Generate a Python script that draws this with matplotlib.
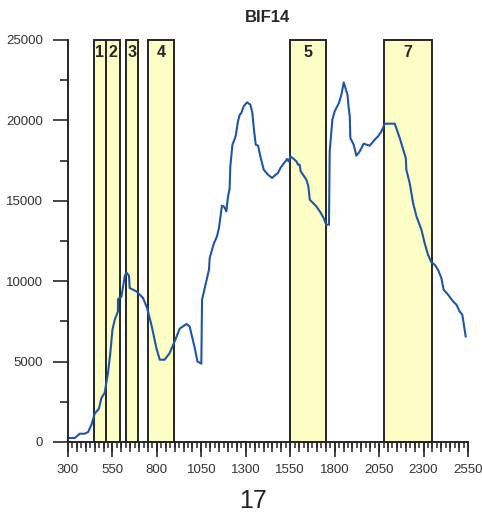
import matplotlib
matplotlib.use("Agg")
import matplotlib.pyplot as plt
from matplotlib.ticker import MultipleLocator, FixedLocator
from matplotlib.patches import Rectangle

plt.rcParams['font.family'] = ['Liberation Sans', 'DejaVu Sans']

wavelength = [306, 338, 366, 394, 413, 432, 450, 474, 488, 506, 525, 538, 550, 563, 581, 581,
              600, 619, 628, 643, 647, 685, 722, 745, 769, 797, 816, 844, 872, 900, 928, 966,
              984, 1013, 1028, 1050, 1054, 1078, 1093, 1097, 1120, 1138, 1149, 1166, 1177, 1191,
              1200, 1209, 1213, 1225, 1243, 1256, 1266, 1275, 1288, 1307, 1326, 1337, 1346, 1356,
              1369, 1382, 1401, 1425, 1448, 1468, 1481, 1495, 1515, 1523, 1532, 1541, 1551, 1570,
              1585, 1594, 1603, 1609, 1622, 1641, 1652, 1660, 1678, 1697, 1720, 1738, 1753, 1768,
              1772, 1787, 1800, 1824, 1838, 1851, 1872, 1879, 1885, 1888, 1907, 1922, 1941, 1963,
              1997, 2025, 2044, 2063, 2081, 2138, 2166, 2200, 2203, 2222, 2241, 2260, 2288, 2306,
              2325, 2344, 2363, 2381, 2400, 2413, 2438, 2466, 2485, 2503, 2518, 2537]
intensity = [249, 250, 516, 516, 620, 1076, 1760, 2071, 2736, 3047, 4291, 5535, 6984, 7606, 8122, 8893,
             9018, 10299, 10548, 10342, 9577, 9366, 8955, 8333, 7295, 5846, 5118, 5118, 5535, 6256, 7046, 7338,
             7189, 5846, 5012, 4869, 8850, 9988, 10715, 11443, 12332, 12789, 13309, 14696, 14654, 14342,
             15275, 15733, 17140, 18489, 19006, 19939, 20355, 20460, 20874, 21123, 20977, 20460, 19422, 18489,
             18427, 17762, 16934, 16623, 16418, 16623, 16728, 17040, 17351, 17451, 17600, 17451, 17762, 17600,
             17451, 17245, 17245, 16830, 16623, 16312, 15896, 15068, 14863, 14654, 14280, 13931, 13514, 13514,
             18073, 20044, 20560, 21082, 21599, 22363, 21599, 20771, 20248, 18906, 18489, 17805, 18073, 18551,
             18427, 18800, 19006, 19317, 19795, 19795, 18906, 17662, 16934, 16107, 14863, 14030, 13203, 12376,
             11648, 11169, 11026, 10715, 10199, 9471, 9160, 8744, 8539, 8122, 7917, 6567]

band_labels = ['1', '2', '3', '4', '5', '7']
band_start = [445, 512, 625, 750, 1548, 2075]
band_end = [512, 590, 692, 895, 1750, 2345]

x_ticks = [300, 550, 800, 1050, 1300, 1550, 1800, 2050, 2300, 2550]
y_ticks = [0, 5000, 10000, 15000, 20000, 25000]

title = 'BIF14'
bottom_label = '17'

fig = plt.figure(figsize=(4.82, 5.21), dpi=100)
ax = fig.add_axes([68 / 482, 79 / 521, 400 / 482, 402 / 521])

ink = '#262626'
for lab, s, e in zip(band_labels, band_start, band_end):
    ax.add_patch(Rectangle((s, 0), e - s, 25000, facecolor='#FDFDC6', edgecolor=ink,
                           linewidth=1.4, clip_on=False, zorder=1))
    ax.text((s + e) / 2, 24250, lab, ha='center', va='center', fontsize=11.5,
            fontweight='bold', color=ink, zorder=3)

ax.plot(wavelength, intensity, color='#1F56A3', linewidth=1.5, zorder=2, clip_on=False)

ax.set_xlim(300, 2550)
ax.set_ylim(0, 25000)
for s in ['top', 'right']:
    ax.spines[s].set_visible(False)
for s in ['left', 'bottom']:
    ax.spines[s].set_color(ink)
    ax.spines[s].set_linewidth(1.4)

ax.xaxis.set_major_locator(FixedLocator(x_ticks))
ax.set_xticklabels([str(t) for t in x_ticks])
ax.xaxis.set_minor_locator(MultipleLocator(25))
ax.yaxis.set_major_locator(FixedLocator(y_ticks))
ax.set_yticklabels([str(t) for t in y_ticks])
ax.yaxis.set_minor_locator(MultipleLocator(2500))
ax.tick_params(axis='both', which='major', direction='out', length=11, width=1.2,
               color=ink, labelsize=9.5, labelcolor='#333333')
ax.tick_params(axis='x', which='major', pad=5)
ax.tick_params(axis='y', which='major', pad=7)
ax.tick_params(axis='x', which='minor', direction='out', length=4.5, width=1.1, color=ink)
ax.tick_params(axis='y', which='minor', direction='out', length=6, width=1.2, color=ink)

sec = ax.secondary_xaxis('bottom')
sec.xaxis.set_major_locator(FixedLocator(list(range(300, 2551, 50))))
sec.tick_params(axis='x', which='major', direction='out', length=7.5, width=1.1,
                color=ink, labelbottom=False)
sec.xaxis.set_minor_locator(FixedLocator([]))
sec.spines['bottom'].set_visible(False)

fig.text(268 / 482, 1 - 17 / 521, title, ha='center', va='center', fontsize=12,
         fontweight='bold', color=ink)
fig.text(253 / 482, 1 - 501 / 521, bottom_label, ha='center', va='center', fontsize=18,
         color='#222222')

fig.savefig('out.png', dpi=100)
